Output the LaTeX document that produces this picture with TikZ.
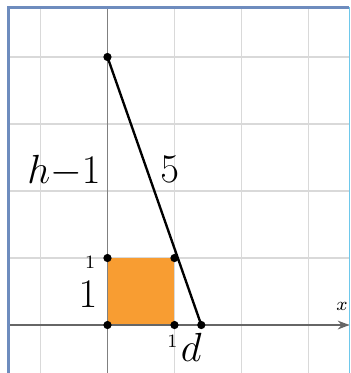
\documentclass[tikz,border=0pt]{standalone}
\usetikzlibrary{arrows.meta}
\definecolor{sqorange}{RGB}{248,157,50}
\definecolor{framel}{RGB}{110,140,190}
\definecolor{framer}{RGB}{110,200,235}
\tikzset{
  pt/.style={circle, fill=black, inner sep=0pt, minimum size=3.5pt},
  biglabel/.style={font=\fontsize{19}{23}\selectfont},
  ticklabel/.style={font=\fontsize{8}{9}\selectfont}
}
\begin{document}
\begin{tikzpicture}
            \useasboundingbox (-1.604,-0.716) rectangle (3.634,4.851);
            \draw[black!15, line width=0.5pt] (-1.478,-0.716) grid (3.612,4.739);
            \fill[sqorange] (0,0) rectangle (1,1);
            \draw[gray, line width=0.6pt] (0,-0.716) -- (0,4.739);
            \draw[-{Stealth[length=5pt]}, gray!80!black, line width=0.6pt] (-1.478,0) -- (3.612,0);
            \draw[framel, line width=1.1pt] (-1.478,-0.716) -- (-1.478,4.739) -- (3.612,4.739);
            \draw[framer, line width=0.8pt] (3.612,4.739) -- (3.612,-0.716);
            % points
            \node[pt] (top) at (0,4) {};
            \node[pt] (o) at (0,0) {};
            \node[pt] (a) at (0,1) {};
            \node[pt] (b) at (1,1) {};
            \node[pt] (c) at (1,0) {};
            \node[pt] (d) at (1.4,0) {};
            \draw[line width=1pt] (top.center) -- (d.center);
            % labels
            \node[biglabel] (hlab) at (-0.65,2.3) {$h{-}1$};
            \node[biglabel] (fivelab) at (0.93,2.33) {$5$};
            \node[biglabel] (onelab) at (-0.29,0.46) {$1$};
            \node[biglabel] (dlab) at (1.25,-0.34) {$d$};
            \node[ticklabel] (ya) at (-0.26,0.94) {$1$};
            \node[ticklabel] (xa) at (0.97,-0.25) {$1$};
            \node[ticklabel] (xlab) at (3.5,0.27) {$x$};
          \end{tikzpicture}
\end{document}
